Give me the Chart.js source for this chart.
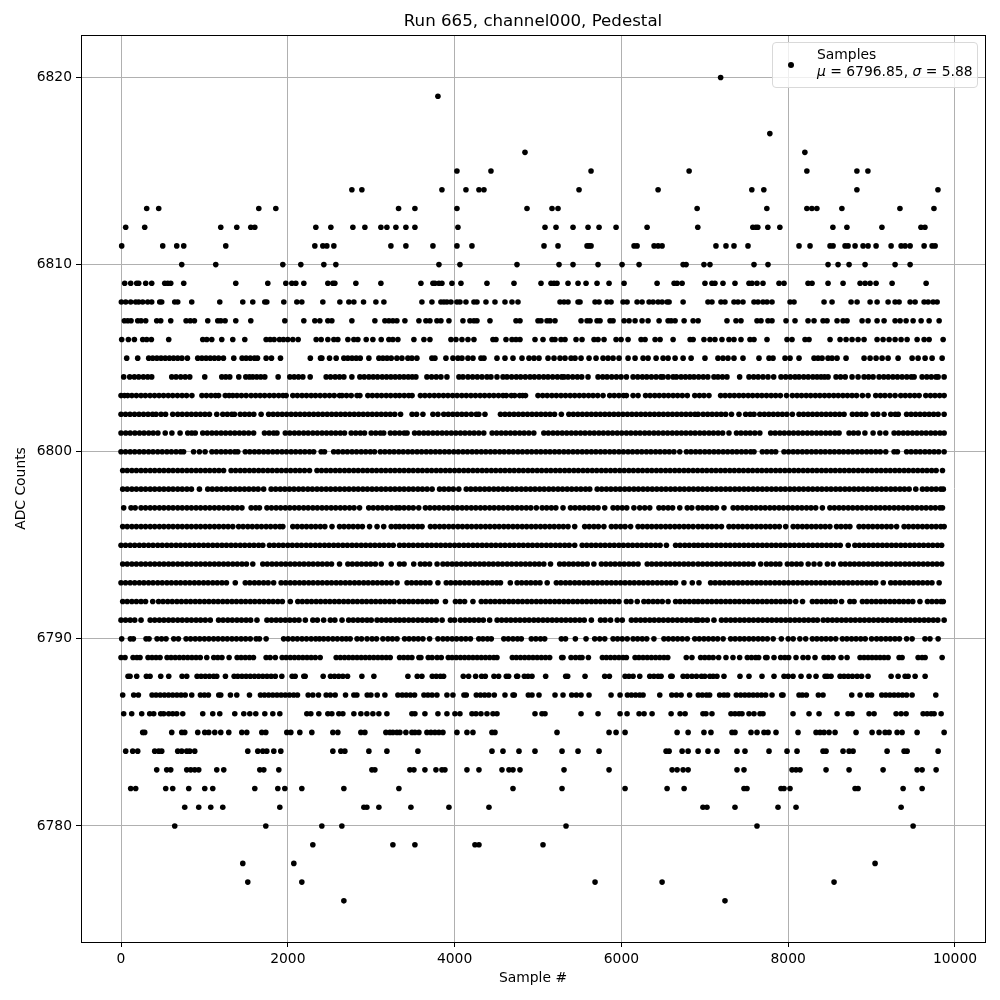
<!DOCTYPE html>
<html>
<head>
<meta charset="utf-8">
<title>Run 665, channel000, Pedestal</title>
<script src="https://cdn.jsdelivr.net/npm/chart.js@4"></script>
<style>
  html, body { margin: 0; padding: 0; background: #fff; }
  #wrap { position: relative; width: 1000px; height: 1000px; font-family: "DejaVu Sans", sans-serif; }
  #legend { position: absolute; left: 772px; top: 42px; width: 204px; height: 44px; border: 1px solid #d9d9d9; border-radius: 4px; background: rgba(255,255,255,0.8); font-size: 13.89px; line-height: 17px; color: #000; }
  #legend .dot { position: absolute; left: 15px; top: 19px; width: 6px; height: 6px; border-radius: 50%; background: #000; }
  #legend .txt { position: absolute; left: 44px; top: 3px; white-space: nowrap; }
</style>
</head>
<body>
<div id="wrap">
  <canvas id="chart" width="1000" height="1000"></canvas>
  <div id="legend"><span class="dot"></span><div class="txt">Samples<br><i>μ</i> = 6796.85, <i>σ</i> = 5.88</div></div>
</div>
<script>
const xTicks = [0, 2000, 4000, 6000, 8000, 10000];
const yTicks = [6780, 6790, 6800, 6810, 6820];

// sample numbers, one list per ADC level
const adc6820 = [7190];
const adc6819 = [3800];
const adc6817 = [7780];
const adc6816 = [4844, 8200];
const adc6815 = [4028, 4436, 5636, 6812, 8224, 8824, 8956];
const adc6814 = [2768, 2888, 3848, 4136, 4292, 4352, 5492, 6440, 7564, 7708, 8824, 9796];
const adc6813 = [308, 452, 1652, 1856, 3328, 3524, 4028, 4868, 5168, 5240, 6908, 7744, 8224, 8284, 8344, 8644, 9340, 9748];
const adc6812 = [56, 284, 1196, 1388, 1556, 1604, 2336, 2516, 2780, 2924, 3116, 3188, 3296, 3416, 3524, 4040, 5084, 5216, 5420, 5600, 5732, 5936, 6308, 6916, 7576, 7612, 7636, 7756, 7900, 8536, 8704, 9124, 9592, 9640];
const adc6811 = [8, 500, 668, 752, 1256, 2324, 2420, 2468, 2552, 3236, 3416, 3740, 4028, 4208, 5072, 5240, 5588, 5612, 5636, 6152, 6188, 6392, 6440, 6488, 7134, 7254, 7350, 7518, 8130, 8262, 8502, 8538, 8682, 8718, 8802, 8898, 8958, 9054, 9234, 9354, 9402, 9462, 9630, 9726, 9762];
const adc6810 = [728, 1136, 1940, 2156, 2432, 2576, 3812, 4064, 4748, 5252, 5420, 5720, 6008, 6212, 6740, 6776, 6990, 7062, 7590, 7758, 8478, 8598, 8730, 8922, 9282, 9462];
const adc6809 = [44, 116, 188, 212, 296, 368, 524, 560, 596, 752, 1376, 1760, 1976, 2048, 2096, 2192, 2480, 2540, 2564, 2816, 3116, 3596, 3740, 3764, 3812, 3848, 3968, 4076, 4388, 4712, 5036, 5156, 5192, 5228, 5360, 5480, 5576, 5708, 5852, 6032, 6428, 6632, 6668, 6728, 7002, 7086, 7122, 7218, 7362, 7530, 7566, 7626, 7698, 7890, 7950, 8238, 8286, 8478, 8658, 8862, 8922, 8982, 9054, 9246, 9654];
const adc6808 = [4, 56, 116, 176, 212, 260, 320, 368, 464, 488, 644, 680, 848, 1184, 1460, 1580, 1724, 1748, 1952, 2108, 2168, 2420, 2624, 2732, 2792, 2908, 3056, 3152, 3608, 3728, 3836, 3872, 3908, 3956, 4028, 4064, 4136, 4232, 4268, 4376, 4484, 4604, 4688, 4760, 5264, 5312, 5360, 5480, 5504, 5684, 5732, 5828, 5876, 6020, 6068, 6188, 6248, 6332, 6380, 6440, 6488, 6548, 6572, 6740, 7038, 7086, 7194, 7242, 7350, 7398, 7458, 7590, 7638, 7698, 7746, 7806, 8022, 8070, 8430, 8526, 8754, 8826, 8982, 9066, 9198, 9282, 9330, 9462, 9522, 9630, 9678, 9738, 9786];
const adc6807 = [40, 80, 120, 200, 240, 296, 428, 476, 596, 780, 830, 880, 1040, 1160, 1196, 1248, 1376, 1556, 1964, 2192, 2324, 2384, 2480, 2528, 2768, 3044, 3164, 3212, 3260, 3308, 3404, 3572, 3656, 3704, 3788, 3836, 3932, 4100, 4184, 4232, 4268, 4424, 4736, 4784, 5000, 5036, 5108, 5144, 5204, 5516, 5588, 5624, 5708, 5744, 5864, 5900, 6032, 6092, 6164, 6248, 6320, 6452, 6560, 6596, 6644, 6752, 6860, 6920, 7266, 7374, 7434, 7626, 7674, 7758, 7806, 7974, 8082, 8238, 8310, 8418, 8466, 8586, 8658, 8706, 8886, 8958, 9066, 9150, 9282, 9342, 9414, 9498, 9594, 9690, 9810];
const adc6806 = [8, 88, 160, 260, 308, 364, 572, 980, 1028, 1088, 1208, 1340, 1484, 1740, 1788, 1836, 1900, 1948, 2000, 2060, 2124, 2340, 2400, 2480, 2552, 2600, 2720, 2792, 2840, 2940, 3020, 3120, 3212, 3260, 3320, 3512, 3632, 3704, 3956, 4016, 4088, 4160, 4232, 4460, 4496, 4616, 4688, 4736, 4784, 4964, 5060, 5168, 5204, 5276, 5324, 5456, 5528, 5672, 5720, 5792, 5936, 5996, 6080, 6236, 6284, 6404, 6464, 6620, 6824, 6860, 6990, 7062, 7122, 7206, 7290, 7350, 7434, 7542, 7590, 7746, 7986, 8046, 8202, 8250, 8502, 8622, 8694, 8766, 8838, 8910, 9066, 9138, 9210, 9282, 9354, 9426, 9546, 9630, 9690, 9858];
const adc6805 = [68, 200, 332, 380, 430, 480, 530, 580, 630, 680, 730, 796, 920, 970, 1020, 1070, 1120, 1170, 1228, 1352, 1452, 1500, 1550, 1600, 1636, 1740, 1804, 1912, 2270, 2392, 2408, 2500, 2580, 2672, 2720, 2770, 2820, 2868, 2972, 3092, 3140, 3190, 3240, 3308, 3368, 3440, 3488, 3548, 3728, 3764, 3896, 3980, 4040, 4088, 4160, 4220, 4316, 4352, 4508, 4604, 4700, 4808, 4892, 4952, 5012, 5120, 5192, 5264, 5324, 5396, 5444, 5516, 5612, 5696, 5780, 5840, 5900, 5972, 6080, 6164, 6260, 6320, 6416, 6500, 6560, 6644, 6740, 6836, 7002, 7158, 7218, 7278, 7350, 7458, 7650, 7770, 7818, 7962, 8022, 8130, 8310, 8358, 8406, 8478, 8526, 8586, 8694, 8910, 8982, 9054, 9126, 9198, 9318, 9486, 9558, 9642, 9726, 9846];
const adc6804 = [32, 104, 160, 212, 268, 320, 368, 608, 660, 716, 770, 824, 1004, 1208, 1256, 1304, 1412, 1496, 1540, 1580, 1628, 1676, 1724, 1884, 2024, 2076, 2128, 2180, 2268, 2460, 2512, 2568, 2620, 2672, 2768, 2864, 2916, 2972, 3024, 3076, 3132, 3184, 3236, 3288, 3340, 3392, 3444, 3492, 3536, 3668, 3724, 3780, 3836, 3908, 4052, 4100, 4160, 4216, 4272, 4328, 4388, 4436, 4508, 4580, 4628, 4684, 4740, 4792, 4848, 4904, 4956, 5012, 5068, 5120, 5176, 5232, 5284, 5312, 5360, 5416, 5472, 5524, 5600, 5720, 5776, 5828, 5884, 5940, 5996, 6060, 6140, 6196, 6252, 6304, 6360, 6416, 6472, 6500, 6560, 6620, 6660, 6716, 6768, 6820, 6870, 6926, 6982, 7036, 7110, 7158, 7212, 7266, 7418, 7530, 7586, 7640, 7698, 7758, 7826, 7914, 7970, 8026, 8082, 8130, 8186, 8240, 8296, 8346, 8394, 8436, 8478, 8574, 8628, 8684, 8766, 8838, 8910, 8964, 9018, 9090, 9146, 9200, 9256, 9310, 9366, 9422, 9476, 9510, 9606, 9662, 9716, 9772, 9798, 9870];
const adc6803 = [0, 42, 80, 130, 184, 240, 292, 348, 402, 456, 510, 566, 620, 676, 732, 786, 850, 970, 1024, 1080, 1132, 1170, 1250, 1296, 1340, 1390, 1444, 1500, 1560, 1614, 1668, 1722, 1780, 1834, 1890, 1942, 1980, 2060, 2114, 2170, 2224, 2280, 2332, 2388, 2444, 2500, 2556, 2620, 2650, 2704, 2760, 2830, 2864, 2960, 3014, 3070, 3124, 3180, 3234, 3290, 3340, 3396, 3450, 3490, 3590, 3644, 3700, 3756, 3810, 3866, 3920, 3976, 4030, 4086, 4140, 4196, 4250, 4306, 4360, 4416, 4470, 4526, 4580, 4620, 4680, 4720, 4780, 4816, 4850, 5000, 5056, 5110, 5166, 5220, 5276, 5330, 5386, 5440, 5496, 5550, 5606, 5660, 5716, 5780, 5860, 5914, 5970, 6026, 6060, 6140, 6200, 6290, 6344, 6400, 6454, 6510, 6564, 6620, 6674, 6730, 6790, 6880, 6936, 6990, 7050, 7190, 7244, 7300, 7354, 7410, 7464, 7520, 7574, 7630, 7684, 7740, 7796, 7850, 7906, 7980, 8050, 8106, 8160, 8216, 8270, 8326, 8380, 8436, 8490, 8546, 8600, 8656, 8710, 8766, 8820, 8890, 8958, 9050, 9106, 9160, 9220, 9282, 9350, 9404, 9460, 9516, 9570, 9650, 9706, 9760, 9816, 9870];
const adc6802 = [0, 54, 108, 162, 216, 270, 324, 378, 420, 480, 534, 620, 680, 734, 790, 844, 898, 952, 1006, 1060, 1148, 1220, 1274, 1328, 1360, 1430, 1484, 1538, 1592, 1680, 1770, 1824, 1878, 1932, 1986, 2040, 2094, 2148, 2202, 2256, 2310, 2364, 2418, 2472, 2526, 2580, 2634, 2688, 2742, 2796, 2850, 2904, 2958, 3012, 3066, 3120, 3174, 3228, 3282, 3352, 3490, 3544, 3620, 3740, 3800, 3870, 3924, 3978, 4032, 4086, 4140, 4200, 4260, 4290, 4364, 4550, 4604, 4658, 4712, 4766, 4820, 4874, 4928, 4982, 5036, 5090, 5144, 5198, 5280, 5370, 5424, 5478, 5532, 5586, 5640, 5694, 5748, 5802, 5856, 5910, 5964, 6018, 6072, 6126, 6180, 6234, 6288, 6342, 6396, 6450, 6504, 6558, 6612, 6666, 6720, 6774, 6828, 6882, 6920, 6980, 7034, 7088, 7142, 7196, 7250, 7320, 7410, 7490, 7544, 7590, 7660, 7714, 7768, 7822, 7876, 7930, 7984, 8050, 8130, 8184, 8238, 8292, 8346, 8400, 8454, 8508, 8562, 8616, 8670, 8770, 8824, 8878, 8930, 9020, 9074, 9150, 9230, 9284, 9320, 9420, 9474, 9528, 9582, 9636, 9690, 9744, 9798, 9870];
const adc6801 = [0, 56, 110, 166, 222, 276, 332, 386, 442, 530, 610, 708, 800, 848, 890, 980, 1034, 1090, 1144, 1200, 1254, 1310, 1364, 1420, 1474, 1530, 1590, 1720, 1776, 1830, 1870, 1970, 2024, 2080, 2134, 2190, 2244, 2300, 2354, 2410, 2464, 2520, 2574, 2630, 2680, 2760, 2814, 2870, 2920, 3000, 3054, 3110, 3150, 3230, 3284, 3340, 3396, 3430, 3520, 3574, 3630, 3684, 3740, 3794, 3850, 3904, 3960, 4014, 4070, 4124, 4180, 4234, 4290, 4350, 4450, 4504, 4560, 4614, 4670, 4724, 4780, 4834, 4890, 4950, 5070, 5124, 5180, 5234, 5290, 5344, 5400, 5454, 5510, 5564, 5620, 5674, 5730, 5784, 5840, 5894, 5950, 6004, 6060, 6114, 6170, 6224, 6280, 6334, 6390, 6444, 6500, 6554, 6610, 6664, 6720, 6774, 6830, 6884, 6940, 6994, 7050, 7104, 7160, 7214, 7290, 7380, 7434, 7490, 7544, 7600, 7660, 7790, 7844, 7900, 7954, 8010, 8064, 8120, 8174, 8230, 8284, 8340, 8394, 8450, 8504, 8560, 8610, 8730, 8784, 8840, 8920, 9018, 9100, 9170, 9270, 9324, 9380, 9434, 9490, 9544, 9600, 9654, 9710, 9764, 9820, 9870];
const adc6800 = [0, 54, 110, 164, 220, 274, 330, 384, 440, 494, 550, 604, 660, 714, 750, 870, 940, 1008, 1090, 1144, 1200, 1254, 1310, 1364, 1400, 1490, 1544, 1600, 1654, 1710, 1764, 1820, 1874, 1930, 1984, 2040, 2094, 2150, 2204, 2260, 2310, 2400, 2440, 2550, 2604, 2660, 2714, 2770, 2824, 2880, 2934, 2990, 3040, 3110, 3164, 3220, 3274, 3330, 3384, 3440, 3494, 3550, 3604, 3660, 3714, 3770, 3824, 3880, 3934, 3990, 4044, 4100, 4154, 4210, 4264, 4320, 4374, 4430, 4484, 4540, 4594, 4650, 4704, 4760, 4814, 4870, 4924, 4980, 5034, 5090, 5144, 5200, 5254, 5310, 5364, 5420, 5474, 5530, 5584, 5640, 5694, 5750, 5804, 5860, 5914, 5970, 6024, 6080, 6134, 6190, 6244, 6300, 6354, 6410, 6464, 6520, 6574, 6630, 6700, 6780, 6834, 6890, 6944, 7000, 7054, 7110, 7164, 7220, 7274, 7330, 7384, 7440, 7494, 7550, 7590, 7690, 7744, 7800, 7850, 7950, 8004, 8060, 8114, 8170, 8224, 8280, 8334, 8390, 8444, 8500, 8554, 8610, 8664, 8720, 8774, 8830, 8884, 8940, 8994, 9050, 9104, 9170, 9270, 9310, 9420, 9474, 9530, 9584, 9640, 9694, 9750, 9804, 9870];
const adc6799 = [20, 74, 130, 184, 240, 294, 350, 404, 460, 514, 570, 624, 680, 734, 790, 844, 900, 954, 1010, 1064, 1120, 1174, 1230, 1320, 1374, 1430, 1484, 1540, 1594, 1650, 1704, 1760, 1814, 1870, 1924, 1980, 2034, 2090, 2144, 2200, 2260, 2350, 2404, 2460, 2514, 2570, 2624, 2680, 2734, 2790, 2844, 2900, 2954, 3010, 3064, 3120, 3174, 3230, 3284, 3340, 3394, 3450, 3504, 3560, 3614, 3670, 3724, 3780, 3834, 3890, 3944, 4000, 4054, 4110, 4164, 4220, 4274, 4330, 4384, 4440, 4494, 4550, 4604, 4660, 4714, 4770, 4824, 4880, 4934, 4990, 5044, 5100, 5154, 5210, 5264, 5320, 5374, 5430, 5484, 5540, 5594, 5650, 5704, 5760, 5814, 5870, 5924, 5980, 6034, 6090, 6144, 6200, 6254, 6310, 6364, 6420, 6474, 6530, 6584, 6640, 6694, 6750, 6804, 6860, 6914, 6970, 7024, 7080, 7134, 7190, 7244, 7300, 7354, 7410, 7464, 7520, 7574, 7630, 7684, 7740, 7794, 7850, 7904, 7960, 8014, 8070, 8124, 8180, 8234, 8290, 8344, 8400, 8454, 8510, 8564, 8620, 8674, 8730, 8784, 8840, 8894, 8950, 9004, 9060, 9114, 9170, 9224, 9280, 9334, 9390, 9444, 9500, 9554, 9610, 9664, 9720, 9774, 9850];
const adc6798 = [20, 74, 130, 184, 240, 294, 350, 404, 460, 514, 570, 624, 680, 734, 790, 844, 940, 1040, 1094, 1150, 1204, 1260, 1314, 1370, 1424, 1480, 1534, 1590, 1644, 1710, 1800, 1854, 1910, 1964, 2020, 2074, 2130, 2184, 2240, 2294, 2350, 2404, 2460, 2514, 2570, 2624, 2680, 2734, 2790, 2844, 2900, 2954, 3010, 3064, 3120, 3174, 3230, 3284, 3340, 3394, 3450, 3504, 3560, 3614, 3670, 3730, 3820, 3874, 3930, 3984, 4050, 4140, 4194, 4250, 4304, 4360, 4414, 4470, 4524, 4580, 4634, 4690, 4744, 4800, 4854, 4910, 4964, 5020, 5074, 5130, 5184, 5240, 5294, 5350, 5404, 5460, 5514, 5570, 5620, 5710, 5764, 5820, 5874, 5930, 5984, 6040, 6094, 6150, 6204, 6260, 6314, 6370, 6424, 6480, 6534, 6590, 6644, 6700, 6754, 6810, 6864, 6920, 6974, 7030, 7084, 7140, 7194, 7250, 7304, 7360, 7414, 7470, 7524, 7580, 7634, 7690, 7744, 7800, 7854, 7910, 7964, 8020, 8074, 8130, 8184, 8240, 8294, 8350, 8404, 8460, 8514, 8570, 8624, 8680, 8734, 8790, 8844, 8900, 8954, 9010, 9064, 9120, 9174, 9230, 9284, 9340, 9394, 9450, 9530, 9610, 9664, 9720, 9774, 9830, 9860];
const adc6797 = [32, 120, 170, 240, 294, 350, 404, 460, 514, 570, 624, 680, 734, 790, 844, 900, 954, 1010, 1064, 1120, 1174, 1230, 1284, 1340, 1394, 1450, 1560, 1614, 1660, 1750, 1804, 1860, 1914, 1970, 2024, 2080, 2134, 2190, 2244, 2300, 2354, 2410, 2464, 2520, 2574, 2630, 2684, 2740, 2794, 2860, 2970, 3024, 3080, 3134, 3190, 3244, 3300, 3340, 3394, 3450, 3504, 3570, 3650, 3704, 3760, 3814, 3870, 3924, 3980, 4034, 4090, 4144, 4200, 4254, 4310, 4364, 4420, 4474, 4530, 4584, 4640, 4694, 4750, 4804, 4860, 4914, 4980, 5050, 5104, 5160, 5214, 5300, 5390, 5444, 5500, 5554, 5610, 5664, 5720, 5800, 5900, 5954, 6010, 6064, 6150, 6220, 6280, 6340, 6450, 6504, 6560, 6614, 6700, 6790, 6844, 6920, 6974, 7030, 7084, 7140, 7230, 7340, 7394, 7450, 7504, 7560, 7614, 7670, 7724, 7780, 7834, 7890, 7944, 8000, 8054, 8110, 8164, 8220, 8274, 8330, 8410, 8500, 8554, 8610, 8664, 8720, 8774, 8830, 8884, 8940, 8994, 9050, 9104, 9160, 9214, 9270, 9324, 9380, 9434, 9490, 9544, 9600, 9654, 9710, 9764, 9820, 9850];
const adc6796 = [20, 74, 130, 184, 240, 294, 350, 404, 460, 514, 570, 624, 680, 734, 790, 844, 900, 954, 1010, 1064, 1120, 1174, 1230, 1284, 1340, 1410, 1464, 1520, 1574, 1630, 1684, 1740, 1794, 1850, 1904, 1940, 2060, 2114, 2170, 2224, 2280, 2334, 2390, 2444, 2530, 2620, 2674, 2730, 2784, 2840, 2894, 2980, 3070, 3150, 3240, 3294, 3340, 3394, 3450, 3504, 3560, 3610, 3710, 3764, 3820, 3874, 3930, 3984, 4040, 4094, 4150, 4204, 4260, 4314, 4370, 4424, 4480, 4534, 4590, 4644, 4700, 4754, 4810, 4864, 4920, 4974, 5030, 5084, 5140, 5194, 5250, 5304, 5360, 5440, 5560, 5614, 5670, 5724, 5790, 5880, 5934, 5990, 6044, 6110, 6200, 6254, 6310, 6364, 6420, 6474, 6530, 6584, 6640, 6694, 6750, 6804, 6860, 6920, 6974, 7030, 7084, 7140, 7200, 7290, 7344, 7400, 7454, 7510, 7564, 7620, 7674, 7730, 7784, 7840, 7894, 7970, 8060, 8114, 8170, 8224, 8280, 8334, 8390, 8444, 8500, 8580, 8634, 8690, 8740, 8850, 8904, 8960, 9014, 9070, 9124, 9180, 9234, 9300, 9390, 9444, 9500, 9554, 9610, 9664, 9720, 9774, 9830, 9870];
const adc6795 = [0, 54, 110, 164, 220, 274, 330, 384, 440, 494, 550, 604, 660, 714, 770, 824, 880, 934, 990, 1044, 1100, 1154, 1210, 1264, 1320, 1374, 1430, 1484, 1540, 1594, 1650, 1700, 1780, 1834, 1890, 1944, 2000, 2054, 2110, 2164, 2220, 2274, 2330, 2384, 2440, 2494, 2550, 2604, 2660, 2714, 2770, 2824, 2880, 2934, 2990, 3044, 3100, 3154, 3210, 3264, 3340, 3394, 3450, 3504, 3560, 3614, 3670, 3724, 3780, 3834, 3890, 3944, 4000, 4054, 4110, 4164, 4220, 4274, 4330, 4384, 4440, 4494, 4550, 4604, 4660, 4714, 4770, 4824, 4880, 4934, 4990, 5044, 5100, 5154, 5210, 5264, 5320, 5374, 5440, 5530, 5584, 5640, 5694, 5750, 5804, 5860, 5914, 5970, 6024, 6080, 6134, 6190, 6244, 6300, 6354, 6410, 6464, 6540, 6650, 6704, 6760, 6814, 6870, 6920, 6974, 7030, 7084, 7140, 7194, 7250, 7304, 7360, 7414, 7470, 7524, 7580, 7634, 7690, 7744, 7800, 7854, 7910, 7964, 8020, 8074, 8130, 8184, 8240, 8294, 8350, 8404, 8460, 8514, 8570, 8624, 8720, 8800, 8854, 8910, 8964, 9020, 9074, 9130, 9184, 9240, 9294, 9350, 9404, 9460, 9514, 9570, 9624, 9680, 9734, 9790, 9840];
const adc6794 = [20, 74, 130, 184, 240, 294, 350, 404, 460, 514, 570, 624, 680, 734, 790, 844, 900, 954, 1010, 1064, 1120, 1174, 1230, 1284, 1340, 1394, 1450, 1504, 1580, 1700, 1754, 1810, 1864, 1920, 1974, 2030, 2084, 2140, 2194, 2250, 2304, 2360, 2414, 2470, 2524, 2620, 2720, 2774, 2830, 2884, 2940, 2994, 3050, 3120, 3240, 3340, 3394, 3510, 3590, 3644, 3700, 3790, 3860, 3914, 3970, 4024, 4080, 4134, 4190, 4244, 4300, 4354, 4410, 4464, 4520, 4574, 4630, 4684, 4740, 4794, 4850, 4904, 4960, 5014, 5070, 5150, 5260, 5314, 5370, 5424, 5480, 5534, 5590, 5670, 5760, 5814, 5870, 5924, 5980, 6034, 6090, 6144, 6200, 6310, 6364, 6420, 6474, 6530, 6584, 6640, 6694, 6750, 6804, 6860, 6920, 6974, 7030, 7084, 7140, 7194, 7250, 7304, 7360, 7414, 7470, 7524, 7580, 7670, 7740, 7794, 7850, 7900, 7990, 8044, 8100, 8154, 8240, 8310, 8380, 8470, 8540, 8630, 8684, 8740, 8794, 8850, 8904, 8960, 9014, 9070, 9124, 9180, 9234, 9290, 9344, 9400, 9454, 9510, 9564, 9620, 9674, 9730, 9784, 9840];
const adc6793 = [0, 54, 110, 164, 220, 274, 330, 384, 440, 494, 550, 604, 660, 714, 770, 824, 880, 934, 990, 1044, 1100, 1154, 1210, 1264, 1370, 1490, 1544, 1600, 1654, 1710, 1764, 1830, 1920, 1974, 2030, 2084, 2140, 2194, 2250, 2304, 2360, 2414, 2470, 2524, 2580, 2634, 2690, 2744, 2800, 2854, 2910, 2964, 3020, 3074, 3130, 3184, 3240, 3310, 3430, 3484, 3540, 3594, 3650, 3704, 3800, 3900, 3954, 4010, 4064, 4120, 4174, 4230, 4284, 4340, 4394, 4450, 4504, 4550, 4668, 4750, 4804, 4860, 4914, 4970, 5024, 5110, 5220, 5274, 5330, 5384, 5440, 5494, 5550, 5604, 5660, 5714, 5770, 5824, 5880, 5934, 5990, 6044, 6100, 6154, 6210, 6264, 6320, 6374, 6430, 6484, 6540, 6594, 6650, 6750, 6850, 6930, 7070, 7124, 7180, 7234, 7290, 7344, 7400, 7454, 7510, 7564, 7620, 7674, 7730, 7784, 7840, 7894, 7950, 8004, 8060, 8114, 8170, 8224, 8280, 8334, 8390, 8444, 8500, 8554, 8610, 8664, 8720, 8774, 8830, 8884, 8940, 8994, 9050, 9140, 9230, 9284, 9340, 9394, 9450, 9504, 9560, 9614, 9670, 9724, 9810];
const adc6792 = [20, 74, 130, 184, 240, 294, 380, 450, 504, 560, 614, 670, 724, 780, 834, 890, 944, 1000, 1054, 1110, 1164, 1220, 1274, 1330, 1384, 1440, 1494, 1550, 1604, 1660, 1714, 1770, 1824, 1880, 1934, 2030, 2120, 2174, 2230, 2284, 2340, 2394, 2450, 2504, 2560, 2614, 2670, 2724, 2780, 2834, 2890, 2944, 3000, 3054, 3110, 3164, 3220, 3274, 3340, 3394, 3450, 3504, 3560, 3614, 3670, 3724, 3780, 3890, 4010, 4064, 4120, 4220, 4320, 4374, 4430, 4484, 4540, 4594, 4650, 4704, 4760, 4814, 4870, 4924, 4980, 5034, 5090, 5144, 5200, 5254, 5310, 5364, 5420, 5474, 5530, 5584, 5640, 5694, 5750, 5804, 5860, 5914, 5970, 6060, 6114, 6190, 6270, 6324, 6380, 6434, 6490, 6560, 6650, 6704, 6760, 6814, 6870, 6920, 6974, 7030, 7084, 7140, 7194, 7250, 7304, 7360, 7414, 7470, 7524, 7580, 7634, 7690, 7744, 7800, 7854, 7910, 7964, 8020, 8090, 8172, 8290, 8344, 8400, 8454, 8510, 8564, 8640, 8740, 8790, 8890, 8944, 9000, 9054, 9110, 9164, 9220, 9274, 9330, 9384, 9440, 9494, 9580, 9670, 9724, 9780, 9834, 9860];
const adc6791 = [0, 54, 110, 164, 240, 350, 404, 460, 514, 570, 624, 680, 734, 790, 844, 900, 954, 1010, 1070, 1170, 1224, 1280, 1334, 1390, 1444, 1500, 1554, 1630, 1750, 1804, 1860, 1914, 1970, 2024, 2080, 2134, 2210, 2300, 2354, 2430, 2510, 2564, 2650, 2730, 2784, 2840, 2894, 2950, 3000, 3070, 3124, 3180, 3234, 3290, 3340, 3394, 3450, 3504, 3560, 3614, 3670, 3724, 3780, 3850, 3950, 4000, 4070, 4124, 4180, 4234, 4290, 4344, 4420, 4510, 4564, 4620, 4674, 4730, 4784, 4840, 4894, 4950, 5004, 5060, 5114, 5170, 5224, 5280, 5334, 5390, 5444, 5500, 5554, 5640, 5750, 5804, 5870, 5950, 6010, 6120, 6174, 6230, 6284, 6340, 6394, 6450, 6504, 6560, 6614, 6670, 6724, 6780, 6834, 6890, 6920, 6974, 7030, 7110, 7200, 7254, 7310, 7364, 7420, 7474, 7530, 7584, 7640, 7694, 7750, 7804, 7860, 7914, 7970, 8024, 8080, 8134, 8190, 8244, 8300, 8350, 8420, 8474, 8530, 8584, 8640, 8694, 8750, 8804, 8860, 8914, 8970, 9024, 9080, 9134, 9190, 9244, 9300, 9354, 9410, 9464, 9520, 9574, 9630, 9684, 9740, 9794, 9870];
const adc6790 = [8, 112, 148, 300, 336, 432, 486, 540, 632, 688, 780, 834, 890, 944, 1000, 1054, 1110, 1164, 1220, 1274, 1330, 1384, 1440, 1494, 1550, 1620, 1660, 1740, 1950, 2004, 2060, 2114, 2170, 2224, 2280, 2334, 2380, 2430, 2484, 2540, 2594, 2650, 2700, 2748, 2830, 2884, 2950, 3010, 3064, 3140, 3200, 3254, 3310, 3400, 3454, 3510, 3564, 3620, 3700, 3800, 3860, 3914, 3970, 4024, 4080, 4134, 4190, 4290, 4340, 4394, 4440, 4590, 4644, 4700, 4754, 4800, 4920, 4974, 5030, 5080, 5280, 5330, 5448, 5576, 5680, 5740, 5800, 5900, 5954, 6010, 6070, 6140, 6194, 6250, 6304, 6390, 6510, 6564, 6620, 6674, 6730, 6790, 6880, 6934, 6990, 7044, 7100, 7154, 7220, 7310, 7364, 7420, 7474, 7530, 7584, 7640, 7694, 7750, 7820, 7918, 8000, 8060, 8140, 8210, 8290, 8344, 8400, 8454, 8510, 8570, 8650, 8704, 8760, 8814, 8870, 8924, 9000, 9060, 9114, 9170, 9224, 9280, 9334, 9420, 9486, 9640, 9700, 9798];
const adc6789 = [0, 48, 144, 190, 228, 324, 372, 420, 468, 552, 600, 650, 700, 750, 800, 850, 900, 950, 1028, 1112, 1160, 1210, 1296, 1392, 1440, 1490, 1540, 1588, 1740, 1788, 1850, 1932, 1980, 2030, 2080, 2130, 2180, 2230, 2280, 2330, 2388, 2580, 2630, 2680, 2730, 2780, 2830, 2880, 2930, 2980, 3030, 3080, 3130, 3180, 3228, 3340, 3390, 3440, 3488, 3572, 3596, 3684, 3730, 3790, 3840, 3924, 3970, 4020, 4070, 4120, 4170, 4220, 4270, 4320, 4370, 4420, 4470, 4508, 4692, 4740, 4790, 4840, 4890, 4940, 4990, 5040, 5090, 5140, 5284, 5300, 5396, 5450, 5500, 5528, 5604, 5772, 5820, 5870, 5920, 5970, 6020, 6060, 6164, 6210, 6260, 6310, 6360, 6410, 6460, 6510, 6556, 6778, 6846, 6950, 7000, 7050, 7100, 7166, 7254, 7338, 7418, 7510, 7560, 7610, 7646, 7730, 7746, 7830, 7910, 7960, 8006, 8094, 8178, 8238, 8322, 8430, 8480, 8538, 8634, 8706, 8862, 8910, 8958, 9006, 9054, 9102, 9150, 9198, 9330, 9366, 9558, 9606, 9642, 9846];
const adc6788 = [84, 108, 188, 304, 348, 476, 572, 732, 788, 912, 960, 1010, 1060, 1110, 1148, 1252, 1356, 1400, 1450, 1500, 1550, 1600, 1650, 1700, 1750, 1800, 1850, 1928, 2052, 2088, 2192, 2208, 2424, 2512, 2560, 2610, 2660, 2716, 2888, 3032, 3440, 3552, 3608, 3732, 3780, 3830, 3868, 4104, 4168, 4252, 4324, 4368, 4472, 4528, 4620, 4648, 4744, 4756, 4836, 4880, 4928, 5092, 5332, 5356, 5564, 5800, 5856, 6044, 6090, 6140, 6220, 6340, 6390, 6440, 6476, 6592, 6608, 6740, 6790, 6846, 6900, 6960, 7000, 7060, 7100, 7146, 7230, 7422, 7530, 7686, 7830, 7950, 8000, 8058, 8154, 8250, 8334, 8442, 8470, 8514, 8622, 8670, 8720, 8770, 8826, 8880, 8958, 9234, 9318, 9402, 9438, 9522, 9642];
const adc6787 = [20, 152, 208, 372, 420, 470, 520, 570, 620, 670, 720, 770, 848, 952, 1000, 1048, 1172, 1196, 1312, 1388, 1540, 1672, 1720, 1770, 1820, 1870, 1920, 1970, 2020, 2070, 2116, 2244, 2300, 2368, 2460, 2510, 2568, 2692, 2792, 2828, 2952, 2996, 3072, 3164, 3320, 3372, 3420, 3470, 3520, 3632, 3680, 3730, 3788, 3908, 3980, 4112, 4140, 4260, 4310, 4360, 4410, 4476, 4604, 4700, 4716, 4884, 4928, 5012, 5204, 5300, 5404, 5460, 5516, 5612, 5876, 5984, 6072, 6120, 6170, 6220, 6260, 6460, 6604, 6660, 6716, 6818, 6922, 6970, 7020, 7058, 7178, 7230, 7274, 7378, 7430, 7480, 7530, 7580, 7630, 7680, 7730, 7806, 7922, 7938, 8130, 8170, 8218, 8362, 8418, 8762, 8862, 8954, 9000, 9122, 9170, 9220, 9270, 9320, 9370, 9420, 9486, 9770];
const adc6786 = [32, 128, 248, 344, 392, 476, 512, 572, 620, 668, 740, 980, 1100, 1184, 1364, 1472, 1544, 1616, 1724, 1820, 1904, 2228, 2276, 2372, 2480, 2528, 2612, 2660, 2792, 2876, 2948, 3020, 3092, 3188, 3488, 3524, 3644, 3800, 3908, 4004, 4064, 4208, 4256, 4316, 4388, 4460, 4508, 4964, 5048, 5084, 5516, 5720, 5984, 6068, 6212, 6272, 6368, 6596, 6704, 6764, 6978, 7014, 7086, 7314, 7362, 7410, 7446, 7530, 7590, 7662, 7698, 8058, 8250, 8370, 8586, 8718, 8766, 8970, 9030, 9294, 9354, 9414, 9618, 9666, 9714, 9750, 9834];
const adc6785 = [260, 284, 608, 728, 764, 920, 1004, 1052, 1124, 1196, 1292, 1448, 1508, 1688, 1736, 1988, 2036, 2144, 2288, 2540, 2600, 2876, 2924, 3176, 3224, 3260, 3308, 3344, 3416, 3488, 3524, 3572, 3668, 3716, 3764, 3812, 3860, 4028, 4148, 4220, 4448, 4484, 5228, 5852, 5936, 6044, 6668, 6800, 6990, 7074, 7326, 7362, 7554, 7626, 7710, 7758, 7854, 8118, 8334, 8382, 8430, 8490, 8562, 8814, 9006, 9090, 9162, 9210, 9306, 9366, 9546, 9870];
const adc6784 = [56, 140, 200, 404, 452, 488, 680, 728, 788, 824, 884, 1520, 1640, 1700, 1748, 1832, 1916, 2540, 2636, 2684, 2972, 3188, 3560, 4448, 4580, 4772, 4964, 5288, 5480, 5732, 6536, 6572, 6728, 6800, 6920, 7038, 7146, 7386, 7482, 7770, 7986, 8106, 8418, 8454, 8658, 8730, 8778, 9186, 9390, 9426, 9798];
const adc6783 = [428, 548, 596, 788, 836, 884, 932, 1148, 1232, 1664, 1712, 1892, 3008, 3044, 3464, 3512, 3644, 3776, 3848, 3884, 4148, 4292, 4568, 4652, 4700, 4784, 5312, 5852, 6608, 6668, 6740, 6800, 7386, 7470, 8046, 8094, 8142, 8454, 8730, 9138, 9546, 9606, 9774];
const adc6782 = [116, 176, 536, 620, 812, 1004, 1100, 1604, 1880, 1964, 2168, 2672, 3332, 4700, 5288, 6044, 6548, 6752, 7470, 7506, 7914, 7950, 8022, 8802, 8838, 9378, 9606];
const adc6781 = [764, 932, 1076, 1220, 1904, 2912, 2948, 3092, 3476, 3932, 4412, 6978, 7026, 7362, 7878, 8094, 9354];
const adc6780 = [644, 1736, 2408, 2648, 5336, 7626, 9498];
const adc6779 = [2300, 3260, 3524, 4244, 4292, 5060];
const adc6778 = [1460, 2072, 9042];
const adc6777 = [1520, 2168, 5684, 6488, 8550];
const adc6776 = [2672, 7242];

const adcLevels = [6820, 6819, 6817, 6816, 6815, 6814, 6813, 6812, 6811, 6810, 6809, 6808, 6807, 6806, 6805, 6804, 6803, 6802, 6801, 6800, 6799, 6798, 6797, 6796, 6795, 6794, 6793, 6792, 6791, 6790, 6789, 6788, 6787, 6786, 6785, 6784, 6783, 6782, 6781, 6780, 6779, 6778, 6777, 6776];
const levelSamples = [adc6820, adc6819, adc6817, adc6816, adc6815, adc6814, adc6813, adc6812, adc6811, adc6810, adc6809, adc6808, adc6807, adc6806, adc6805, adc6804, adc6803, adc6802, adc6801, adc6800, adc6799, adc6798, adc6797, adc6796, adc6795, adc6794, adc6793, adc6792, adc6791, adc6790, adc6789, adc6788, adc6787, adc6786, adc6785, adc6784, adc6783, adc6782, adc6781, adc6780, adc6779, adc6778, adc6777, adc6776];

const points = [];
adcLevels.forEach((level, i) => {
    levelSamples[i].forEach(s => points.push({ x: s, y: level }));
});

const tickFont = { family: '"DejaVu Sans"', size: 13.89 };

// matplotlib draws all four spines, Chart.js only the axis ones
const frame = {
    id: 'frame',
    afterDatasetsDraw(chart) {
        const a = chart.chartArea, c = chart.ctx;
        c.save();
        c.strokeStyle = '#000';
        c.lineWidth = 1;
        c.strokeRect(a.left + 0.5, a.top + 0.5, a.width, a.height);
        c.restore();
    }
};

new Chart(document.getElementById('chart'), {
    type: 'scatter',
    data: {
        datasets: [{
            label: 'Samples',
            data: points,
            backgroundColor: '#000',
            borderWidth: 0,
            pointRadius: 2.8
        }]
    },
    options: {
        responsive: false,
        animation: false,
        parsing: false,
        layout: { padding: { right: 15 } },
        plugins: {
            legend: { display: false },
            tooltip: { enabled: false },
            title: {
                display: true,
                fullSize: false,
                text: 'Run 665, channel000, Pedestal',
                color: '#000',
                font: { family: '"DejaVu Sans"', size: 16.67, weight: 'normal' },
                padding: { top: 12, bottom: 3 }
            }
        },
        scales: {
            x: {
                type: 'linear',
                min: -480,
                max: 10360,
                afterBuildTicks: s => { s.ticks = xTicks.map(v => ({ value: v })); },
                afterFit: s => { s.height = 58; },
                grid: { color: '#b0b0b0', lineWidth: 1, tickColor: '#000', tickLength: 5 },
                border: { display: false },
                ticks: { color: '#000', font: tickFont, maxRotation: 0, padding: 4, callback: v => String(v) },
                title: { display: true, text: 'Sample #', color: '#000', font: tickFont, padding: { top: 2, bottom: 13 } }
            },
            y: {
                type: 'linear',
                min: 6773.8,
                max: 6822.27,
                afterBuildTicks: s => { s.ticks = yTicks.map(v => ({ value: v })); },
                afterFit: s => { s.width = 81; },
                grid: { color: '#b0b0b0', lineWidth: 1, tickColor: '#000', tickLength: 5 },
                border: { display: false },
                ticks: { color: '#000', font: tickFont, padding: 4, callback: v => String(v) },
                title: { display: true, text: 'ADC Counts', color: '#000', font: tickFont, padding: { top: 13, bottom: 0 } }
            }
        }
    },
    plugins: [frame]
});
</script>
</body>
</html>
